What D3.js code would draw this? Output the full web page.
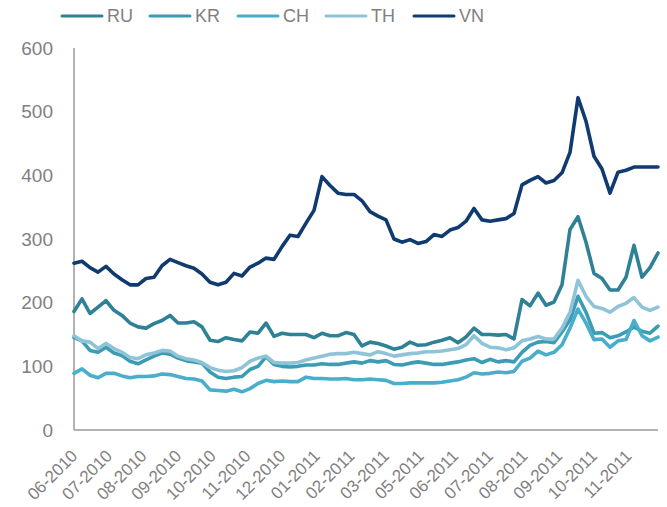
<!DOCTYPE html>
<html>
<head>
<meta charset="utf-8">
<script src="https://cdn.jsdelivr.net/npm/d3@7"></script>
<style>
  body { margin: 0; background: #fff; }
  text { font-family: "Liberation Sans", Arial, sans-serif; fill: #808080; }
</style>
</head>
<body>
<svg id="chart" width="667" height="507"></svg>
<script>
// weekly samples, June 2010 -> Nov 2011
const seriesNames = ["RU", "KR", "CH", "TH", "VN"];
const seriesColors = ["#2f8296", "#3b9cb4", "#49aecb", "#8fc4d8", "#0f3b70"];

const RU = [186, 206, 183, 193, 203, 188, 180, 168, 162, 160, 167, 172, 180, 168, 168, 170, 162, 141, 139, 145,
  142, 140, 154, 152, 168, 147, 152, 150, 150, 150, 145, 152, 148, 148, 153, 150, 132, 138, 136, 132,
  127, 130, 138, 133, 134, 138, 141, 145, 137, 146, 160, 150, 150, 149, 150, 143, 205, 195, 215, 196,
  201, 228, 315, 335, 295, 246, 238, 220, 220, 240, 290, 240, 255, 278];
const KR = [145, 140, 125, 122, 130, 121, 117, 108, 104, 110, 116, 121, 119, 113, 109, 107, 105, 91, 83, 81,
  83, 84, 95, 100, 115, 103, 100, 99, 100, 102, 102, 104, 103, 103, 105, 107, 105, 109, 107, 109,
  103, 102, 105, 107, 105, 103, 103, 105, 107, 110, 112, 106, 111, 107, 109, 107, 122, 133, 138, 139,
  137, 154, 173, 210, 185, 152, 153, 145, 148, 154, 162, 155, 152, 163];
const CH = [89, 96, 86, 82, 89, 89, 85, 82, 84, 84, 85, 88, 87, 84, 81, 80, 77, 63, 62, 61,
  64, 60, 65, 73, 78, 76, 77, 76, 76, 83, 81, 81, 80, 80, 81, 79, 79, 80, 79, 78,
  73, 73, 74, 74, 74, 74, 75, 77, 79, 83, 90, 88, 89, 91, 90, 92, 108, 113, 124, 118,
  122, 134, 160, 190, 168, 142, 143, 130, 140, 142, 172, 148, 140, 146];
const TH = [148, 140, 138, 128, 136, 128, 122, 114, 112, 118, 121, 125, 124, 116, 112, 110, 106, 98, 94, 92,
  93, 98, 108, 113, 116, 106, 105, 105, 106, 110, 113, 116, 119, 120, 120, 122, 120, 118, 123, 120,
  116, 118, 120, 121, 123, 123, 124, 126, 128, 134, 148, 136, 130, 129, 126, 129, 140, 143, 147, 143,
  143, 160, 185, 235, 210, 194, 191, 185, 194, 199, 208, 193, 188, 193];
const VN = [262, 265, 255, 248, 257, 245, 236, 228, 228, 238, 240, 258, 268, 263, 258, 254, 245, 232, 228, 232,
  246, 242, 256, 262, 270, 268, 288, 306, 304, 325, 345, 398, 384, 372, 370, 370, 360, 343, 336, 330,
  300, 295, 299, 293, 296, 307, 304, 314, 318, 328, 348, 330, 328, 330, 332, 340, 385, 392, 398, 388,
  392, 404, 436, 522, 485, 430, 410, 372, 405, 408, 413, 413, 413, 413];

const tickLabels = ["06-2010", "07-2010", "08-2010", "09-2010", "10-2010", "11-2010", "12-2010",
  "01-2011", "02-2011", "03-2011", "05-2011", "06-2011", "07-2011", "08-2011", "09-2011",
  "10-2011", "11-2011"];
const yTicks = [0, 100, 200, 300, 400, 500, 600];

const allSeries = [RU, KR, CH, TH, VN];

const svg = d3.select("#chart");
const plotLeft = 74, plotRight = 658, plotTop = 48, plotBottom = 430;
const weeksPerLabel = 4.33;

const x = d3.scaleLinear().domain([0, RU.length - 1]).range([plotLeft, plotRight]);
const y = d3.scaleLinear().domain([0, 600]).range([plotBottom, plotTop]);

// y axis labels
svg.append("g")
  .selectAll("text")
  .data(yTicks)
  .join("text")
  .attr("x", 53)
  .attr("y", d => y(d))
  .attr("dy", "0.35em")
  .attr("text-anchor", "end")
  .style("font-size", "19px")
  .text(d => d);

// axis lines
svg.append("line")
  .attr("x1", plotLeft).attr("x2", plotLeft)
  .attr("y1", plotTop).attr("y2", plotBottom)
  .attr("stroke", "#999").attr("stroke-width", 1.5);
svg.append("line")
  .attr("x1", plotLeft).attr("x2", plotRight)
  .attr("y1", plotBottom).attr("y2", plotBottom)
  .attr("stroke", "#999").attr("stroke-width", 1.5);

// x labels, rotated
svg.append("g")
  .selectAll("text")
  .data(tickLabels)
  .join("text")
  .attr("text-anchor", "end")
  .attr("transform", (d, i) => `translate(${x(i * weeksPerLabel) + 4.5},${plotBottom + 27}) rotate(-45)`)
  .style("font-size", "17px")
  .text(d => d);

// lines
const line = d3.line()
  .x((d, i) => x(i))
  .y(d => y(d));

svg.append("g")
  .selectAll("path")
  .data(allSeries)
  .join("path")
  .attr("fill", "none")
  .attr("stroke", (d, i) => seriesColors[i])
  .attr("stroke-width", 3.6)
  .attr("stroke-linejoin", "round")
  .attr("stroke-linecap", "round")
  .attr("d", line);

// legend
const legend = svg.append("g")
  .selectAll("g")
  .data(seriesNames)
  .join("g")
  .attr("transform", (d, i) => `translate(${62 + i * 88},16)`);

legend.append("line")
  .attr("x1", 0).attr("x2", 40)
  .attr("stroke", (d, i) => seriesColors[i])
  .attr("stroke-width", 3)
  .attr("stroke-linecap", "round");

legend.append("text")
  .attr("x", 45)
  .attr("dy", "0.35em")
  .style("font-size", "18px")
  .text(d => d);
</script>
</body>
</html>
